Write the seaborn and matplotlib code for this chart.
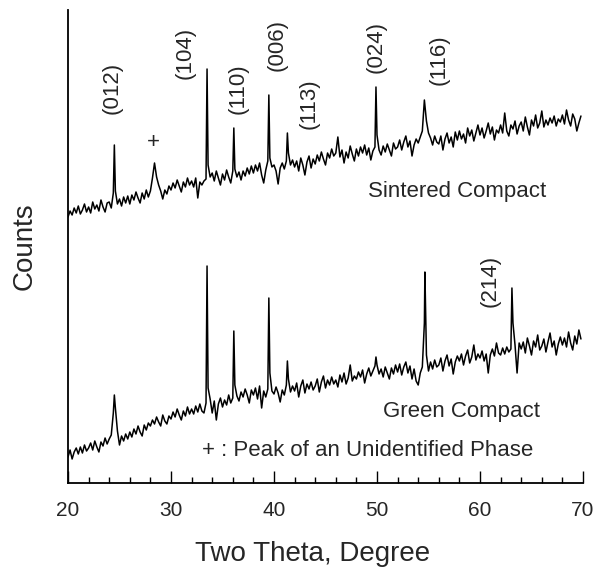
import numpy as np
import pandas as pd
import matplotlib
matplotlib.use("Agg")
import matplotlib.pyplot as plt
import seaborn as sns
from matplotlib.ticker import MultipleLocator

# ---- data (arbitrary counts) -------------------------------------------
theta_start = 20.0
theta_step = 0.2

sintered_grid = [
    266, 272, 268, 275, 270, 277, 269, 273, 279, 271,
    276, 270, 281, 274, 278, 272, 283, 276, 271, 280,
    281, 275, 290, 292, 279, 284, 277, 286, 280, 287,
    279, 288, 283, 291, 285, 280, 290, 284, 293, 286,
    292, 305, 320, 306, 298, 292, 284, 293, 289, 297,
    293, 300, 295, 303, 297, 291, 301, 296, 305, 298,
    302, 296, 305, 285, 301, 298, 302, 304, 318, 306,
    310, 302, 312, 305, 298, 309, 303, 313, 306, 300,
    312, 314, 306, 311, 303, 312, 307, 315, 309, 317,
    310, 318, 312, 320, 308, 300, 313, 322, 325, 316,
    318, 312, 299, 315, 320, 314, 322, 330, 318, 323,
    316, 322, 312, 325, 318, 308, 321, 327, 315, 324,
    319, 328, 322, 331, 324, 318, 330, 325, 334, 327,
    330, 346, 326, 333, 320, 331, 325, 337, 329, 322,
    334, 327, 336, 330, 338, 328, 335, 323, 332, 336,
    348, 333, 328, 337, 331, 339, 333, 327, 340, 334,
    336, 343, 333, 341, 347, 336, 342, 327, 338, 344,
    340, 346, 352, 383, 362, 350, 345, 338, 347, 341,
    339, 347, 333, 344, 350, 340, 346, 336, 351, 343,
    352, 344, 349, 340, 355, 347, 353, 342, 350, 358,
    348, 355, 345, 352, 360, 349, 356, 343, 353, 350,
    358, 350, 370, 352, 347, 358, 354, 362, 349, 357,
    361, 352, 366, 356, 348, 363, 357, 368, 355, 360,
    372, 356, 363, 358, 365, 360, 367, 357, 364, 361,
    368, 359, 373, 363, 357, 369, 364, 352, 360, 367,
]
sintered_peak_theta = [24.5, 33.5, 36.1, 39.5, 41.3, 49.9]
sintered_peak_counts = [338, 414, 355, 388, 350, 396]

green_grid = [
    26, 33, 24, 31, 35, 29, 36, 30, 38, 32,
    35, 40, 33, 42, 36, 31, 41, 37, 45, 39,
    44, 48, 70, 75, 52, 38, 47, 42, 49, 44,
    51, 46, 54, 49, 57, 51, 47, 58, 53, 60,
    57, 63, 59, 66, 61, 57, 68, 62, 59, 67,
    64, 71, 66, 74, 68, 63, 72, 67, 76, 69,
    74, 69, 77, 71, 79, 72, 70, 80, 95, 84,
    70, 82, 63, 79, 85, 76, 83, 78, 88, 80,
    85, 98, 87, 82, 91, 86, 94, 88, 80, 93,
    88, 95, 84, 97, 75, 92, 86, 94, 110, 92,
    89, 96, 90, 81, 93, 88, 98, 104, 91, 97,
    92, 100, 86, 97, 103, 90, 99, 94, 101, 93,
    97, 104, 91, 101, 107, 95, 103, 98, 106, 99,
    103, 96, 108, 101, 110, 99, 105, 118, 102, 107,
    104, 111, 106, 113, 100, 109, 115, 107, 112, 117,
    118, 109, 114, 106, 116, 110, 104, 115, 109, 118,
    111, 119, 108, 116, 121, 110, 117, 104, 114, 102,
    98, 110, 116, 160, 128, 112, 121, 114, 123, 116,
    118, 125, 112, 122, 128, 117, 124, 109, 121, 127,
    122, 129, 118, 127, 133, 120, 126, 138, 123, 129,
    125, 132, 122, 129, 110, 128, 134, 127, 140, 130,
    128, 135, 129, 136, 131, 134, 160, 138, 110, 140,
    134, 141, 130, 145, 137, 128, 142, 136, 148, 133,
    137, 144, 131, 141, 150, 136, 142, 128, 139, 146,
    138, 145, 136, 151, 140, 133, 147, 139, 153, 144,
]
green_peak_theta = [24.5, 33.5, 36.1, 39.5, 41.3, 49.9, 54.65, 63.1]
green_peak_counts = [88, 217, 152, 185, 122, 126, 211, 195]

peak_labels = ["(012)", "(104)", "(110)", "(006)", "(113)", "(024)", "(116)", "(214)"]
label_theta = [24.27, 31.36, 36.5, 40.29, 43.4, 49.9, 56.02, 60.97]
label_y = [395, 430, 394, 438, 379, 436, 423, 202]

x_ticks = [20, 30, 40, 50, 60, 70]

# ---- build tables ----------------------------------------------------
def build(grid, px, py, name):
    th = np.round(theta_start + theta_step * np.arange(len(grid)), 2)
    d1 = pd.DataFrame({"theta": th, "counts": grid})
    d2 = pd.DataFrame({"theta": px, "counts": py})
    d = pd.concat([d1, d2]).sort_values("theta")
    d["sample"] = name
    return d

df = pd.concat([
    build(sintered_grid, sintered_peak_theta, sintered_peak_counts, "Sintered Compact"),
    build(green_grid, green_peak_theta, green_peak_counts, "Green Compact"),
], ignore_index=True)

# ---- plot ------------------------------------------------------------
sns.set_style("white")
plt.rcParams["font.family"] = ["Liberation Sans", "DejaVu Sans"]

fig = plt.figure(figsize=(5.97, 5.72), dpi=100)
ax = fig.add_axes([68 / 597, (572 - 483) / 572, (583 - 68) / 597, (483 - 10) / 572])

sns.lineplot(data=df, x="theta", y="counts", units="sample", estimator=None,
             sort=True, color="black", lw=1.1, ax=ax, legend=False)

ax.set_xlim(20, 70)
ax.set_ylim(0, 473)
ax.set_xticks(x_ticks)
ax.xaxis.set_minor_locator(MultipleLocator(2))
ax.set_yticks([])
ax.tick_params(axis="x", which="major", direction="in", length=9, width=1.0,
               labelsize=15, pad=13, bottom=True, color="black")
ax.tick_params(axis="x", which="minor", direction="in", length=4.5, width=1.0,
               bottom=True, color="black")
for s in ["top", "right"]:
    ax.spines[s].set_visible(False)
for s in ["left", "bottom"]:
    ax.spines[s].set_color("black")
    ax.spines[s].set_linewidth(1.3)

ax.set_xlabel("Two Theta, Degree", fontsize=20, labelpad=15, x=(313 - 68) / 515)
ax.set_ylabel("Counts", fontsize=20, labelpad=22)

for lab, tx, ty in zip(peak_labels, label_theta, label_y):
    ax.text(tx, ty, lab, rotation=90, ha="center", va="center", fontsize=16)
ax.text(28.25, 340, "+", ha="center", va="center", fontsize=16)
ax.text(57.77, 291, "Sintered Compact", ha="center", va="center", fontsize=16)
ax.text(58.16, 71, "Green Compact", ha="center", va="center", fontsize=16)
ax.text(49.13, 33, "+ : Peak of an Unidentified Phase", ha="center", va="center", fontsize=16)

fig.savefig("out.png", dpi=100)
